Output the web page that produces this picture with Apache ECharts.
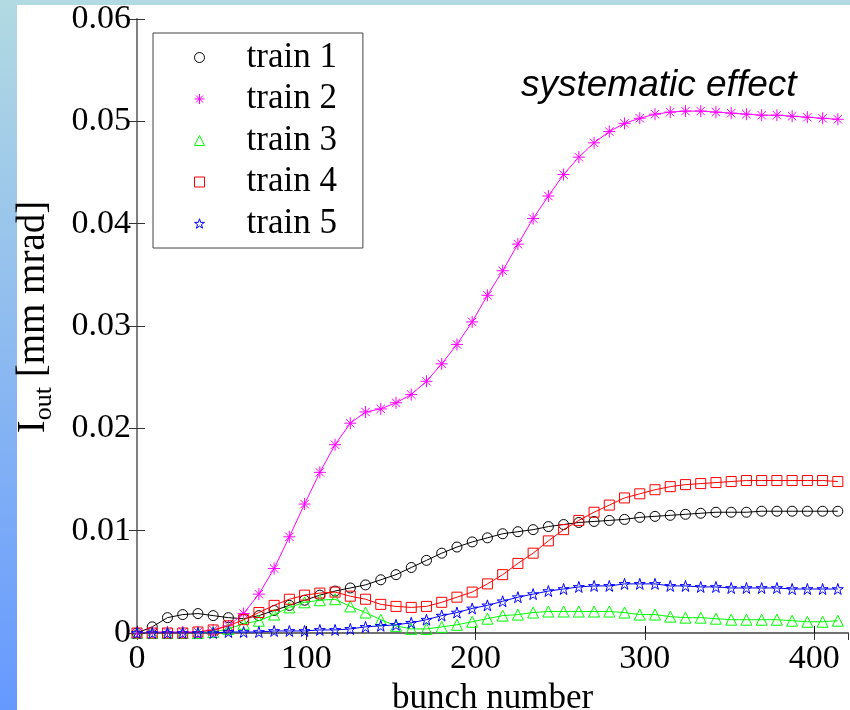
<!DOCTYPE html>
<html>
<head>
<meta charset="utf-8">
<script src="https://cdn.jsdelivr.net/npm/echarts@6/dist/echarts.min.js"></script>
<style>
  html, body { margin:0; padding:0; background:#ffffff; }
  #wrap { position:relative; width:850px; height:710px; background:#ffffff; overflow:hidden; }
  #topband { position:absolute; left:0; top:0; width:850px; height:5px; background:#b2dae2; }
  #leftband { position:absolute; left:0; top:0; width:17px; height:710px; background:linear-gradient(to bottom, #b2dae2, #6699ff); }
  #chart { position:absolute; left:0; top:0; width:850px; height:710px; }
</style>
</head>
<body>
<div id="wrap">
  <div id="topband"></div>
  <div id="leftband"></div>
  <div id="chart"></div>
</div>
<script>
const bunches = [0,9,18,27,36,45,54,63,72,81,90,99,108,117,126,135,144,153,162,171,180,189,198,207,216,225,234,243,252,261,270,279,288,297,306,315,324,333,342,351,360,369,378,387,396,405,414];

const train1 = [0,0.0006,0.0015,0.0018,0.0019,0.0017,0.0015,0.0014,0.0017,0.0022,0.0027,0.0032,0.0037,0.0041,0.0044,0.0047,0.0052,0.0057,0.0064,0.0071,0.0078,0.0084,0.0089,0.0093,0.0097,0.0099,0.0101,0.0104,0.0106,0.0108,0.0109,0.0110,0.0111,0.0113,0.0114,0.0115,0.0116,0.0117,0.0118,0.0118,0.0118,0.0119,0.0119,0.0119,0.0119,0.0119,0.0119];
const train2 = [0,0.0001,0.0001,0.0001,0.0001,0.0003,0.0007,0.0019,0.0038,0.0063,0.0094,0.0126,0.0157,0.0184,0.0205,0.0216,0.0219,0.0225,0.0233,0.0246,0.0263,0.0282,0.0304,0.0330,0.0354,0.0380,0.0405,0.0427,0.0448,0.0465,0.0479,0.0490,0.0498,0.0503,0.0507,0.0509,0.0510,0.0510,0.0509,0.0508,0.0507,0.0506,0.0506,0.0505,0.0504,0.0503,0.0502];
const train3 = [0,0,0,0,0,0.0001,0.0004,0.0009,0.0012,0.0018,0.0025,0.0030,0.0032,0.0033,0.0026,0.0020,0.0013,0.0007,0.0004,0.0004,0.0006,0.0008,0.0011,0.0014,0.0017,0.0018,0.0020,0.0021,0.0021,0.0021,0.0021,0.0021,0.0020,0.0018,0.0018,0.0016,0.0015,0.0015,0.0014,0.0013,0.0013,0.0013,0.0013,0.0012,0.0011,0.0011,0.0012];
const train4 = [0,0,0,0,0.0001,0.0003,0.0007,0.0013,0.0020,0.0027,0.0033,0.0037,0.0039,0.0040,0.0036,0.0033,0.0028,0.0026,0.0025,0.0026,0.0030,0.0035,0.0040,0.0048,0.0057,0.0068,0.0078,0.0090,0.0101,0.0110,0.0118,0.0125,0.0132,0.0136,0.0140,0.0143,0.0145,0.0146,0.0147,0.0148,0.0149,0.0149,0.0149,0.0149,0.0149,0.0149,0.0148];
const train5 = [0,0,0,0,0,0,0.0001,0.0001,0.0001,0.0002,0.0002,0.0002,0.0003,0.0003,0.0004,0.0006,0.0007,0.0008,0.0010,0.0013,0.0017,0.0020,0.0024,0.0027,0.0031,0.0035,0.0038,0.0041,0.0043,0.0045,0.0046,0.0046,0.0048,0.0048,0.0048,0.0046,0.0046,0.0045,0.0045,0.0044,0.0044,0.0044,0.0044,0.0043,0.0043,0.0043,0.0043];

const seriesNames = ['train 1','train 2','train 3','train 4','train 5'];
const xTickLabels = ['0','100','200','300','400'];
const yTickLabels = ['0','0.01','0.02','0.03','0.04','0.05','0.06'];

const ASTER = 'path://M5,0L5,10M0,5L10,5M1.5,1.5L8.5,8.5M1.5,8.5L8.5,1.5';
const STAR = 'path://M50,0L61.2,34.5L97.6,34.5L68.2,55.9L79.4,90.5L50,69.1L20.6,90.5L31.8,55.9L2.4,34.5L38.8,34.5Z';

const styles = [
  {color:'#000000', symbol:'circle', size:10},
  {color:'#ff00ff', symbol:ASTER, size:12},
  {color:'#00ff00', symbol:'triangle', size:11},
  {color:'#ff0000', symbol:'rect', size:10},
  {color:'#0000ff', symbol:STAR, size:11}
];
const allData = [train1, train2, train3, train4, train5];

const serif = 'Liberation Serif';

const series = allData.map((d, i) => ({
  name: seriesNames[i],
  type: 'line',
  xAxisIndex: 0,
  yAxisIndex: 0,
  data: bunches.map((b, j) => [b, d[j]]),
  symbol: styles[i].symbol,
  symbolSize: styles[i].size,
  showAllSymbol: true,
  lineStyle: {color: styles[i].color, width: 1},
  itemStyle: {color: 'rgba(0,0,0,0)', borderColor: styles[i].color, borderWidth: 1},
  emphasis: {disabled: true},
  z: 2 + i
}));

const chart = echarts.init(document.getElementById('chart'), null, {renderer:'canvas'});
chart.setOption({
  animation: false,
  backgroundColor: 'transparent',
  grid: {left: 137, top: 19, right: 2, bottom: 77, containLabel: false, outerBoundsMode: 'none'},
  xAxis: [
    {type:'value', min:0, max:420, interval:100, position:'bottom',
     axisLine:{show:true, lineStyle:{color:'#000', width:1.5}},
     axisTick:{show:true, inside:true, length:7, lineStyle:{color:'#000'}},
     axisLabel:{show:true, margin:9, color:'#000', fontFamily:serif, fontSize:34,
       showMaxLabel:false,
       formatter: v => { const i = Math.round(v/100); return (Math.abs(v - i*100) < 1e-6 && i < xTickLabels.length) ? xTickLabels[i] : ''; }},
     splitLine:{show:false},
     name:'bunch number', nameLocation:'middle', nameGap:39,
     nameTextStyle:{color:'#000', fontFamily:serif, fontSize:35}
    },
    {type:'value', min:0, max:420, interval:100, position:'top',
     axisLine:{show:true, lineStyle:{color:'#808080', width:1.5}},
     axisTick:{show:true, inside:true, length:7, lineStyle:{color:'#333'}},
     axisLabel:{show:false}, splitLine:{show:false}}
  ],
  yAxis: [
    {type:'value', min:0, max:0.06, interval:0.01, position:'left',
     axisLine:{show:true, lineStyle:{color:'#808080', width:2}},
     axisTick:{show:true, inside:true, length:8, lineStyle:{color:'#333'}},
     axisLabel:{show:true, margin:6, color:'#000', fontFamily:serif, fontSize:34,
       formatter: v => { const i = Math.round(v/0.01); return yTickLabels[i] || ''; }},
     splitLine:{show:false}
    },
    {type:'value', min:0, max:0.06, interval:0.01, position:'right',
     axisLine:{show:true, lineStyle:{color:'#808080', width:1.5}},
     axisTick:{show:true, inside:true, length:8, lineStyle:{color:'#333'}},
     axisLabel:{show:false}, splitLine:{show:false}}
  ],
  legend: {
    orient:'vertical', left:153, top:33,
    padding:[7, 26, 7, 41],
    itemGap: 6.5,
    itemWidth: 10, itemHeight: 10,
    backgroundColor:'#ffffff', borderColor:'#444', borderWidth:1,
    textStyle:{color:'#000', fontFamily:serif, fontSize:35, lineHeight:34, padding:[0,0,0,37]},
    selectedMode:false,
    data: seriesNames.map((n, i) => ({
      name:n, icon: styles[i].symbol,
      itemStyle:{color:'rgba(0,0,0,0)', borderColor: styles[i].color, borderWidth:1}
    }))
  },
  graphic: [
    {type:'text', left:521, top:67, z:100,
     style:{text:'systematic effect', fill:'#000', font:'italic 37px "Liberation Sans"'}},
    {type:'text', x:34, y:317, rotation:Math.PI/2, z:100,
     style:{
       text:'{a|I}{b|out}{a| [mm mrad]}',
       align:'center', verticalAlign:'middle',
       rich:{
         a:{fontFamily:serif, fontSize:39, fill:'#000'},
         b:{fontFamily:serif, fontSize:26, fill:'#000', padding:[20,0,0,0]}
       }
     }}
  ],
  series: series
});
</script>
</body>
</html>
